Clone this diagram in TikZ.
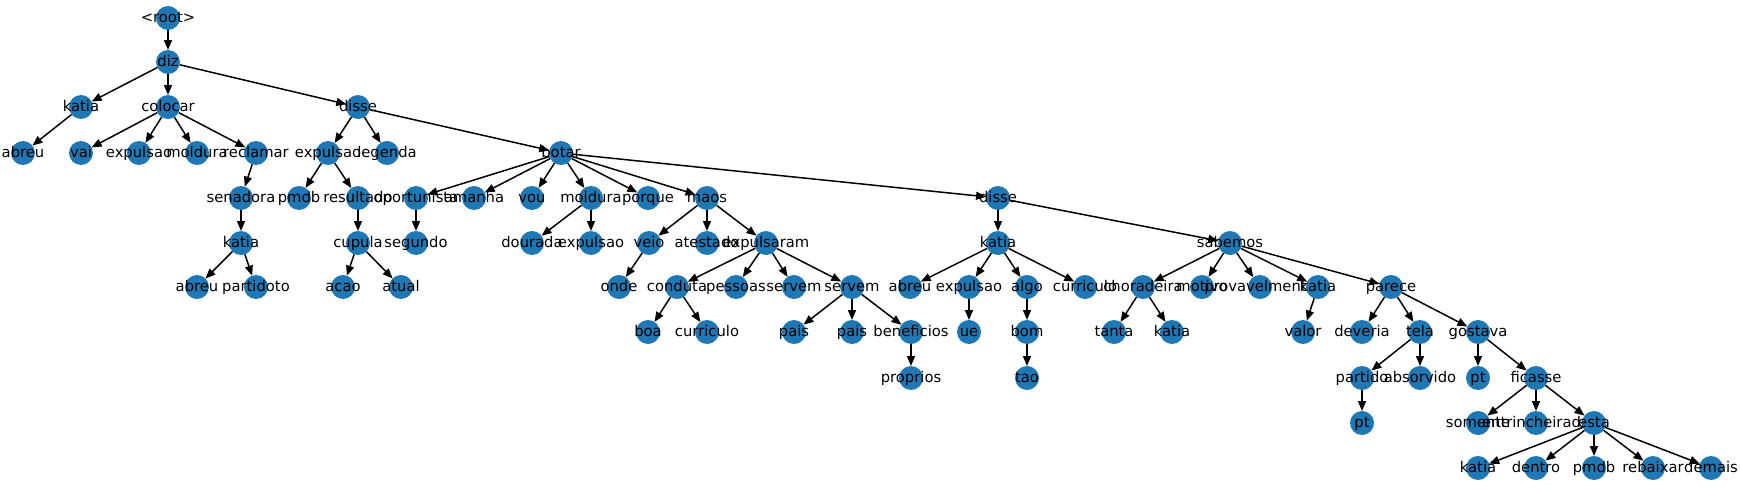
\documentclass[tikz,border=0pt]{standalone}
\usepackage{fontspec}
\newfontfamily\dejavu{DejaVu Sans}
\usetikzlibrary{arrows.meta,backgrounds}
\definecolor{nodeblue}{HTML}{1F77B4}

\begin{document}
\begin{tikzpicture}[x=0.02cm, y=-0.02cm, >={Triangle[length=0.2cm, width=0.16cm]},
word/.style={font=\dejavu\fontsize{8.4}{10}\selectfont, text=black, inner sep=0pt, text height=0.72em, text depth=0.2em},
tok/.style={circle, fill=nodeblue, minimum size=4.8mm, inner sep=0pt, outer sep=0pt, label={[word]center:#1}},
dep/.style={->, line width=0.85pt}]
\useasboundingbox (0,0) rectangle (1741,494);

\node[tok={<root>}](root) at (168,18) {};
\node[tok=diz](diz) at (168,62) {};
\node[tok=katia](katiaA) at (81,107) {};
\node[tok=colocar](colocar) at (168,107) {};
\node[tok=disse](disseA) at (358,107) {};

\node[tok=abreu](abreuA) at (23,153) {};
\node[tok=vai](vai) at (81,153) {};
\node[tok=expulsao](expulsaoA) at (139,153) {};
\node[tok=moldura](molduraA) at (197,153) {};
\node[tok=reclamar](reclamar) at (256,153) {};
\node[tok=expulsao](expulsaoB) at (328,153) {};
\node[tok=legenda](legenda) at (387,153) {};
\node[tok=botar](botar) at (561,153) {};

\node[tok=senadora](senadora) at (241,198) {};
\node[tok=pmdb](pmdbA) at (299,198) {};
\node[tok=resultado](resultado) at (358,198) {};
\node[tok=oportunista](oportunista) at (416,198) {};
\node[tok=amanha](amanha) at (474,198) {};
\node[tok=vou](vou) at (532,198) {};
\node[tok=moldura](molduraB) at (591,198) {};
\node[tok=porque](porque) at (648,198) {};
\node[tok=maos](maos) at (707,198) {};
\node[tok=disse](disseB) at (998,198) {};

\node[tok=katia](katiaB) at (241,243) {};
\node[tok=cupula](cupula) at (358,243) {};
\node[tok=segundo](segundo) at (416,243) {};
\node[tok=dourada](dourada) at (532,243) {};
\node[tok=expulsao](expulsaoC) at (591,243) {};
\node[tok=veio](veio) at (649,243) {};
\node[tok=atestado](atestado) at (707,243) {};
\node[tok=expulsaram](expulsaram) at (766,243) {};
\node[tok=katia](katiaC) at (998,243) {};
\node[tok=sabemos](sabemos) at (1230,243) {};

\node[tok=abreu](abreuB) at (197,287) {};
\node[tok=partidoto](partidoto) at (256,287) {};
\node[tok=acao](acao) at (343,287) {};
\node[tok=atual](atual) at (401,287) {};
\node[tok=onde](onde) at (619,287) {};
\node[tok=conduta](conduta) at (677,287) {};
\node[tok=pessoas](pessoas) at (736,287) {};
\node[tok=servem](servemA) at (794,287) {};
\node[tok=servem](servemB) at (852,287) {};
\node[tok=abreu](abreuC) at (910,287) {};
\node[tok=expulsao](expulsaoD) at (969,287) {};
\node[tok=algo](algo) at (1027,287) {};
\node[tok=curriculo](curriculoA) at (1085,287) {};
\node[tok=choradeira](choradeira) at (1143,287) {};
\node[tok=motivo](motivo) at (1202,287) {};
\node[tok=provavelmente](provavelmente) at (1260,287) {};
\node[tok=katia](katiaD) at (1318,287) {};
\node[tok=parece](parece) at (1391,287) {};

\node[tok=boa](boa) at (648,332) {};
\node[tok=curriculo](curriculoB) at (707,332) {};
\node[tok=pais](paisA) at (794,332) {};
\node[tok=pais](paisB) at (852,332) {};
\node[tok=beneficios](beneficios) at (911,332) {};
\node[tok=ue](ue) at (969,332) {};
\node[tok=bom](bom) at (1027,332) {};
\node[tok=tanta](tanta) at (1114,332) {};
\node[tok=katia](katiaE) at (1172,332) {};
\node[tok=valor](valor) at (1303,332) {};
\node[tok=deveria](deveria) at (1362,332) {};
\node[tok=tela](tela) at (1420,332) {};
\node[tok=gostava](gostava) at (1478,332) {};

\node[tok=proprios](proprios) at (911,378) {};
\node[tok=tao](tao) at (1027,378) {};
\node[tok=partido](partido) at (1362,378) {};
\node[tok=absorvido](absorvido) at (1420,378) {};
\node[tok=pt](ptA) at (1478,378) {};
\node[tok=ficasse](ficasse) at (1536,378) {};

\node[tok=pt](ptB) at (1362,423) {};
\node[tok=somente](somente) at (1478,423) {};
\node[tok=entrincheirado](entrincheirado) at (1536,423) {};
\node[tok=esta](esta) at (1594,423) {};

\node[tok=katia](katiaF) at (1478,468) {};
\node[tok=dentro](dentro) at (1536,468) {};
\node[tok=pmdb](pmdbB) at (1594,468) {};
\node[tok=rebaixar](rebaixar) at (1653,468) {};
\node[tok=demais](demais) at (1711,468) {};

\begin{pgfonlayer}{background}
\draw[dep](root) -- (diz);
\draw[dep](diz) -- (katiaA);
\draw[dep](diz) -- (colocar);
\draw[dep](diz) -- (disseA);
\draw[dep](katiaA) -- (abreuA);
\draw[dep](colocar) -- (vai);
\draw[dep](colocar) -- (expulsaoA);
\draw[dep](colocar) -- (molduraA);
\draw[dep](colocar) -- (reclamar);
\draw[dep](reclamar) -- (senadora);
\draw[dep](senadora) -- (katiaB);
\draw[dep](katiaB) -- (abreuB);
\draw[dep](katiaB) -- (partidoto);
\draw[dep](disseA) -- (expulsaoB);
\draw[dep](disseA) -- (legenda);
\draw[dep](disseA) -- (botar);
\draw[dep](expulsaoB) -- (pmdbA);
\draw[dep](expulsaoB) -- (resultado);
\draw[dep](resultado) -- (cupula);
\draw[dep](cupula) -- (acao);
\draw[dep](cupula) -- (atual);
\draw[dep](botar) -- (oportunista);
\draw[dep](botar) -- (amanha);
\draw[dep](botar) -- (vou);
\draw[dep](botar) -- (molduraB);
\draw[dep](botar) -- (porque);
\draw[dep](botar) -- (maos);
\draw[dep](botar) -- (disseB);
\draw[dep](oportunista) -- (segundo);
\draw[dep](molduraB) -- (dourada);
\draw[dep](molduraB) -- (expulsaoC);
\draw[dep](maos) -- (veio);
\draw[dep](maos) -- (atestado);
\draw[dep](maos) -- (expulsaram);
\draw[dep](veio) -- (onde);
\draw[dep](expulsaram) -- (conduta);
\draw[dep](expulsaram) -- (pessoas);
\draw[dep](expulsaram) -- (servemA);
\draw[dep](expulsaram) -- (servemB);
\draw[dep](conduta) -- (boa);
\draw[dep](conduta) -- (curriculoB);
\draw[dep](servemB) -- (paisA);
\draw[dep](servemB) -- (paisB);
\draw[dep](servemB) -- (beneficios);
\draw[dep](beneficios) -- (proprios);
\draw[dep](disseB) -- (katiaC);
\draw[dep](disseB) -- (sabemos);
\draw[dep](katiaC) -- (abreuC);
\draw[dep](katiaC) -- (expulsaoD);
\draw[dep](katiaC) -- (algo);
\draw[dep](katiaC) -- (curriculoA);
\draw[dep](expulsaoD) -- (ue);
\draw[dep](algo) -- (bom);
\draw[dep](bom) -- (tao);
\draw[dep](sabemos) -- (choradeira);
\draw[dep](sabemos) -- (motivo);
\draw[dep](sabemos) -- (provavelmente);
\draw[dep](sabemos) -- (katiaD);
\draw[dep](sabemos) -- (parece);
\draw[dep](choradeira) -- (tanta);
\draw[dep](choradeira) -- (katiaE);
\draw[dep](katiaD) -- (valor);
\draw[dep](parece) -- (deveria);
\draw[dep](parece) -- (tela);
\draw[dep](parece) -- (gostava);
\draw[dep](tela) -- (partido);
\draw[dep](tela) -- (absorvido);
\draw[dep](partido) -- (ptB);
\draw[dep](gostava) -- (ptA);
\draw[dep](gostava) -- (ficasse);
\draw[dep](ficasse) -- (somente);
\draw[dep](ficasse) -- (entrincheirado);
\draw[dep](ficasse) -- (esta);
\draw[dep](esta) -- (katiaF);
\draw[dep](esta) -- (dentro);
\draw[dep](esta) -- (pmdbB);
\draw[dep](esta) -- (rebaixar);
\draw[dep](esta) -- (demais);
\end{pgfonlayer}

\end{tikzpicture}
\end{document}
